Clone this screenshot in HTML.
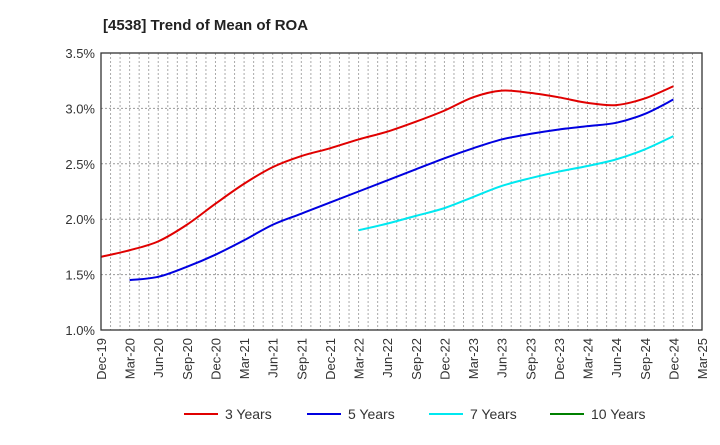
<!DOCTYPE html>
<html><head><meta charset="utf-8"><style>
body{margin:0;background:#fff;font-family:"Liberation Sans",Arial,sans-serif}
svg text{font-family:"Liberation Sans",Arial,sans-serif}
</style></head><body>
<svg width="720" height="440" xmlns="http://www.w3.org/2000/svg">
<text x="103" y="30" font-size="15" font-weight="bold" fill="#222">[4538]  Trend of Mean of ROA</text>
<g id="grid"></g><g id="series"></g><g id="axes"></g><g id="legend"></g>
</svg>
<script>
const xLabels=["Dec-19","Mar-20","Jun-20","Sep-20","Dec-20","Mar-21","Jun-21","Sep-21","Dec-21","Mar-22","Jun-22","Sep-22","Dec-22","Mar-23","Jun-23","Sep-23","Dec-23","Mar-24","Jun-24","Sep-24","Dec-24","Mar-25"];
const yTicks=[1.0,1.5,2.0,2.5,3.0,3.5];
const s3=[1.66,1.72,1.80,1.95,2.14,2.32,2.47,2.57,2.64,2.72,2.79,2.88,2.98,3.10,3.16,3.14,3.10,3.05,3.03,3.09,3.20];
const s3Start=0;
const s5=[1.45,1.48,1.57,1.68,1.81,1.95,2.05,2.15,2.25,2.35,2.45,2.55,2.64,2.72,2.77,2.81,2.84,2.87,2.95,3.08];
const s5Start=1;
const s7=[1.90,1.96,2.03,2.10,2.20,2.30,2.37,2.43,2.48,2.54,2.63,2.75];
const s7Start=9;
const s10=[];
const s10Start=0;
const NS="http://www.w3.org/2000/svg";
const L=101,R=702,T=53,B=330;
const x=i=>L+(R-L)*i/(xLabels.length-1);
const y=v=>B-(v-1.0)/(2.5)*(B-T);
function mk(tag,attrs,parent){const e=document.createElementNS(NS,tag);for(const k in attrs)e.setAttribute(k,attrs[k]);parent.appendChild(e);return e;}
const grid=document.getElementById('grid'),axes=document.getElementById('axes'),ser=document.getElementById('series'),leg=document.getElementById('legend');
const months=(xLabels.length-1)*3;
for(let m=1;m<months;m++){const xx=L+(R-L)*m/months;const g=mk('line',{x1:xx,x2:xx,y1:T,y2:B,stroke:'#aaa','stroke-dasharray':'2,2','stroke-width':1},grid);

}
yTicks.forEach(v=>{const yy=y(v);
if(v>1.0&&v<3.5){const g=mk('line',{x1:L,x2:R,y1:yy,y2:yy,stroke:'#999','stroke-dasharray':'2,2'},grid);

}
const t=mk('text',{x:L-6,y:yy+5,'text-anchor':'end','font-size':13,fill:'#333'},axes);t.textContent=v.toFixed(1)+'%';

});
const fr=mk('rect',{x:L,y:T,width:R-L,height:B-T,fill:'none',stroke:'#333','stroke-width':1.3},axes);


xLabels.forEach((lab,i)=>{const xx=x(i);const t=mk('text',{x:0,y:0,'text-anchor':'end','font-size':13,fill:'#333',transform:`translate(${xx+5},${B+8}) rotate(-90)`},axes);t.textContent=lab;

});
function path(vals,start){const p=vals.map((v,k)=>[x(start+k),y(v)]);if(p.length<2)return '';let d=`M${p[0][0]},${p[0][1]}`;
for(let i=0;i<p.length-1;i++){const p0=p[i-1]||p[i],p1=p[i],p2=p[i+1],p3=p[i+2]||p2;
d+=` C${p1[0]+(p2[0]-p0[0])/6},${p1[1]+(p2[1]-p0[1])/6} ${p2[0]-(p3[0]-p1[0])/6},${p2[1]-(p3[1]-p1[1])/6} ${p2[0]},${p2[1]}`;}return d;}
const series=[[s3,s3Start,'#e00000','3 Years','series-3-years'],[s5,s5Start,'#0000e0','5 Years','series-5-years'],[s7,s7Start,'#00e8f0','7 Years','series-7-years'],[s10,s10Start,'#008000','10 Years','series-10-years']];
series.forEach(([v,s,c,n,dn])=>{if(v.length>1){const e=mk('path',{d:path(v,s),fill:'none',stroke:c,'stroke-width':2},ser);

}});
const lx=[184,307,429,550];
series.forEach(([v,s,c,n,dn],i)=>{const g=mk('g',{},leg);


mk('line',{x1:lx[i],x2:lx[i]+34,y1:414,y2:414,stroke:c,'stroke-width':2},g);
const t=mk('text',{x:lx[i]+41,y:419,'font-size':14,fill:'#333'},g);t.textContent=n;});
</script>
</body></html>
